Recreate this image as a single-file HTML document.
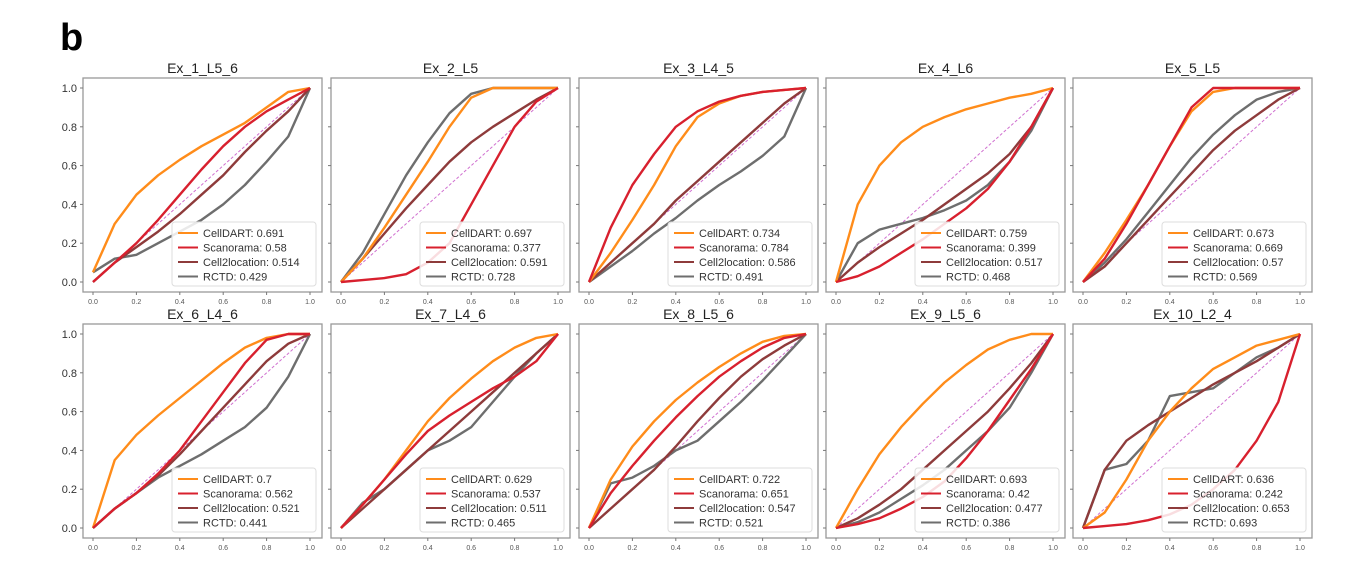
<!DOCTYPE html>
<html><head><meta charset="utf-8"><style>
body{margin:0;background:#fff;width:1354px;height:579px;overflow:hidden;font-family:"Liberation Sans",sans-serif}
svg{display:block}
</style></head><body>
<svg id="fig" width="1354" height="579">
<text x="60" y="50" font-size="38" font-weight="bold">b</text>
</svg>
<script>
const titles=["Ex_1_L5_6","Ex_2_L5","Ex_3_L4_5","Ex_4_L6","Ex_5_L5","Ex_6_L4_6","Ex_7_L4_6","Ex_8_L5_6","Ex_9_L5_6","Ex_10_L2_4"];
const methods=["CellDART","Scanorama","Cell2location","RCTD"];
const colors=["#ff8c1a","#d8202e","#8e3b3b","#6e6e6e"];
const xs=[0,0.1,0.2,0.3,0.4,0.5,0.6,0.7,0.8,0.9,1];
const yTicks=[0,0.2,0.4,0.6,0.8,1.0];
const xTicks=[0,0.2,0.4,0.6,0.8,1.0];
const aucs=[
["0.691","0.58","0.514","0.429"],["0.697","0.377","0.591","0.728"],["0.734","0.784","0.586","0.491"],["0.759","0.399","0.517","0.468"],["0.673","0.669","0.57","0.569"],
["0.7","0.562","0.521","0.441"],["0.629","0.537","0.511","0.465"],["0.722","0.651","0.547","0.521"],["0.693","0.42","0.477","0.386"],["0.636","0.242","0.653","0.693"]];
const cellDART=[
[0.05,0.3,0.45,0.55,0.63,0.7,0.76,0.82,0.9,0.98,1],[0,0.12,0.28,0.45,0.62,0.8,0.95,1,1,1,1],[0,0.15,0.32,0.5,0.7,0.85,0.92,0.96,0.98,0.99,1],[0,0.4,0.6,0.72,0.8,0.85,0.89,0.92,0.95,0.97,1],[0,0.15,0.32,0.5,0.7,0.88,0.98,1,1,1,1],
[0,0.35,0.48,0.58,0.67,0.76,0.85,0.93,0.98,1,1],[0,0.12,0.25,0.4,0.55,0.67,0.77,0.86,0.93,0.98,1],[0,0.25,0.42,0.55,0.66,0.75,0.83,0.9,0.96,0.99,1],[0,0.2,0.38,0.52,0.64,0.75,0.84,0.92,0.97,1,1],[0,0.08,0.25,0.45,0.6,0.72,0.82,0.88,0.94,0.97,1]];
const scanorama=[
[0,0.1,0.2,0.32,0.45,0.58,0.7,0.8,0.88,0.94,1],[0,0.01,0.02,0.04,0.1,0.2,0.4,0.6,0.8,0.93,1],[0,0.28,0.5,0.66,0.8,0.88,0.93,0.96,0.98,0.99,1],[0,0.03,0.08,0.15,0.22,0.3,0.38,0.48,0.62,0.8,1],[0,0.12,0.3,0.5,0.7,0.9,1,1,1,1,1],
[0,0.1,0.18,0.28,0.4,0.55,0.7,0.85,0.97,1,1],[0,0.12,0.25,0.38,0.5,0.58,0.65,0.72,0.78,0.86,1],[0,0.18,0.32,0.45,0.57,0.68,0.78,0.86,0.93,0.98,1],[0,0.02,0.05,0.1,0.16,0.24,0.36,0.5,0.66,0.82,1],[0,0.01,0.02,0.04,0.07,0.12,0.2,0.3,0.45,0.65,1]];
const cell2location=[
[0,0.1,0.18,0.26,0.35,0.45,0.55,0.67,0.78,0.88,1],[0,0.12,0.25,0.38,0.5,0.62,0.72,0.8,0.87,0.94,1],[0,0.1,0.2,0.3,0.42,0.52,0.62,0.72,0.82,0.92,1],[0,0.1,0.18,0.25,0.32,0.4,0.48,0.56,0.66,0.8,1],[0,0.08,0.2,0.32,0.44,0.56,0.68,0.78,0.86,0.94,1],
[0,0.1,0.18,0.27,0.38,0.5,0.62,0.74,0.86,0.95,1],[0,0.1,0.2,0.3,0.4,0.5,0.6,0.7,0.8,0.9,1],[0,0.1,0.2,0.3,0.42,0.55,0.67,0.78,0.87,0.94,1],[0,0.05,0.12,0.2,0.3,0.4,0.5,0.6,0.72,0.85,1],[0,0.3,0.45,0.53,0.6,0.67,0.74,0.8,0.86,0.93,1]];
const rctd=[
[0.05,0.12,0.14,0.2,0.26,0.32,0.4,0.5,0.62,0.75,1],[0,0.15,0.35,0.55,0.72,0.87,0.97,1,1,1,1],[0,0.08,0.16,0.25,0.33,0.42,0.5,0.57,0.65,0.75,1],[0,0.2,0.27,0.3,0.33,0.37,0.42,0.5,0.62,0.78,1],[0,0.1,0.22,0.36,0.5,0.64,0.76,0.86,0.94,0.98,1],
[0,0.1,0.18,0.26,0.32,0.38,0.45,0.52,0.62,0.78,1],[0,0.13,0.2,0.3,0.4,0.45,0.52,0.65,0.78,0.9,1],[0,0.23,0.26,0.32,0.4,0.45,0.55,0.65,0.76,0.88,1],[0,0.03,0.08,0.15,0.22,0.3,0.4,0.5,0.62,0.8,1],[0,0.3,0.33,0.45,0.68,0.7,0.72,0.8,0.88,0.93,1]];
const series=[cellDART,scanorama,cell2location,rctd];
const NS="http://www.w3.org/2000/svg";
const fig=document.getElementById('fig');
function mk(tag,attrs,parent){const e=document.createElementNS(NS,tag);for(const k in attrs)e.setAttribute(k,attrs[k]);parent.appendChild(e);return e;}
const boxW=239,boxH=214,colX=[83,331,579,826,1073],rowY=[78,324];
titles.forEach((t,i)=>{
  const bx=colX[i%5],by=rowY[Math.floor(i/5)];
  const g=mk('g',{},fig);
  
  
  const X=v=>bx+10+v*217, Y=v=>by+10+(1-v)*194;
  const r=mk('rect',{x:bx,y:by,width:boxW,height:boxH,fill:'#fff',stroke:'#999','stroke-width':1.3},g);
  
  
  const tt=mk('text',{x:bx+boxW/2,y:by-5,'text-anchor':'middle','font-size':14,fill:'#222'},g);tt.textContent=t;
  
  
  if(i%5===0){yTicks.forEach(v=>{const l=mk('text',{x:bx-6,y:Y(v)+4,'text-anchor':'end','font-size':11,fill:'#333'},g);l.textContent=v.toFixed(1);
    
    });}
  yTicks.forEach(v=>mk('line',{x1:bx-3,x2:bx,y1:Y(v),y2:Y(v),stroke:'#777'},g));
  xTicks.forEach(v=>{mk('line',{x1:X(v),x2:X(v),y1:by+boxH,y2:by+boxH+3,stroke:'#777'},g);
    const l=mk('text',{x:X(v),y:by+boxH+12,'text-anchor':'middle','font-size':7,fill:'#555'},g);l.textContent=v.toFixed(1);
    
    });
  const d=mk('line',{x1:X(0),y1:Y(0),x2:X(1),y2:Y(1),stroke:'#d070d0','stroke-width':1,'stroke-dasharray':'3,2'},g);
  
  
  [3,2,0,1].forEach(s=>{
    const pts=series[s][i].map((v,k)=>X(xs[k]).toFixed(1)+','+Y(v).toFixed(1)).join(' ');
    const p=mk('polyline',{points:pts,fill:'none',stroke:colors[s],'stroke-width':2.4,'stroke-linejoin':'round'},g);
    
    
  });
  const lx=bx+89,ly=by+144;
  const lg=mk('rect',{x:lx,y:ly,width:144,height:64,fill:'#fff','fill-opacity':0.85,stroke:'#ddd',rx:3},g);
  
  
  methods.forEach((m,s)=>{
    const yy=ly+11+s*14.5;
    mk('line',{x1:lx+6,x2:lx+26,y1:yy,y2:yy,stroke:colors[s],'stroke-width':2},g);
    const lt=mk('text',{x:lx+31,y:yy+4,'font-size':11,fill:'#333'},g);lt.textContent=m+': '+aucs[i][s];
    
    
  });
});
</script>
</body></html>
